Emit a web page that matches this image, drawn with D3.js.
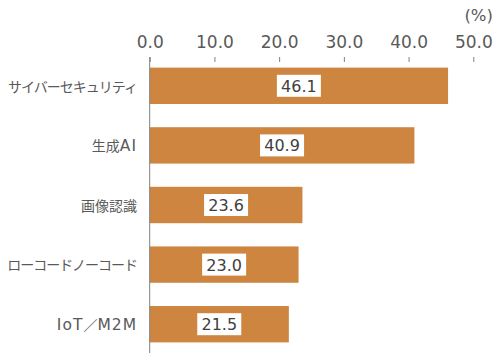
<!DOCTYPE html>
<html>
<head>
<meta charset="utf-8">
<script src="https://cdn.jsdelivr.net/npm/d3@7"></script>
<style>
  body { margin: 0; background: #fff; }
  svg { display: block; font-family: "DejaVu Sans", "Noto Sans CJK JP", sans-serif; }
</style>
</head>
<body>
<div id="chart"></div>
<script>
const categories = ["サイバーセキュリティ", "生成AI", "画像認識", "ローコードノーコード", "IoT／M2M"];
const values = [46.1, 40.9, 23.6, 23.0, 21.5];
const tickValues = [0, 10, 20, 30, 40, 50];

const width = 499, height = 364;

const svg = d3.select("#chart").append("svg")
    .attr("width", width)
    .attr("height", height);

const x = d3.scaleLinear().domain([0, 50]).range([149.7, 473.3]);
const y = d3.scaleBand().domain(categories).range([56, 354])
    .paddingInner(0.39).paddingOuter(0.195);

// top axis: tick marks only, no domain line
const xAxis = svg.append("g")
    .attr("transform", "translate(0,60)")
    .call(d3.axisTop(x).tickValues(tickValues).tickSize(3).tickPadding(9).tickFormat(d3.format(".1f")));
xAxis.select(".domain").remove();
xAxis.selectAll(".tick line").attr("stroke", "#808080").attr("y2", 2).attr("y1", -3);
xAxis.selectAll(".tick text")
    .attr("fill", "#595959")
    .style("font-size", "17px")
    .style("font-family", "'DejaVu Sans', sans-serif");

svg.append("text")
    .attr("x", 493)
    .attr("y", 21)
    .attr("text-anchor", "end")
    .attr("fill", "#595959")
    .style("font-size", "16.5px")
    .text("(%)");

// bars
svg.selectAll("rect.bar")
    .data(values)
    .enter()
    .append("rect")
    .attr("class", "bar")
    .attr("x", x(0))
    .attr("y", (d, i) => y(categories[i]))
    .attr("width", d => x(d) - x(0))
    .attr("height", y.bandwidth())
    .attr("fill", "#CD853F");

// left axis line
svg.append("line")
    .attr("x1", x(0)).attr("x2", x(0))
    .attr("y1", 57).attr("y2", 353)
    .attr("stroke", "#808080")
    .attr("stroke-width", 1);

// category labels: latin runs larger, kana slightly tighter, like the original font
const cat = svg.selectAll("text.cat")
    .data(categories)
    .enter()
    .append("text")
    .attr("class", "cat")
    .attr("x", 137)
    .attr("y", d => y(d) + y.bandwidth() / 2)
    .attr("dy", "0.36em")
    .attr("text-anchor", "end")
    .attr("fill", "#595959");

cat.each(function(d) {
    const runs = d.match(/[\x20-\x7e]+|[\u30a0-\u30ff]+|[^\x20-\x7e\u30a0-\u30ff]+/g);
    const t = d3.select(this);
    runs.forEach(r => {
        const latin = /^[\x20-\x7e]+$/.test(r);
        const kana = /^[\u30a0-\u30ff]+$/.test(r);
        t.append("tspan")
            .style("font-family", latin ? "'DejaVu Sans', sans-serif" : "'Noto Sans CJK JP', sans-serif")
            .style("font-size", latin ? "15.5px" : "14px")
            .style("letter-spacing", latin ? "1px" : kana ? "-1px" : "0px")
            .text(r);
    });
});

// value labels with white boxes
const lab = svg.selectAll("g.val")
    .data(values)
    .enter()
    .append("g")
    .attr("class", "val")
    .attr("transform", (d, i) => "translate(" + ((x(0) + x(d)) / 2) + "," + (y(categories[i]) + y.bandwidth() / 2) + ")");

lab.append("rect")
    .attr("x", -22)
    .attr("y", -11)
    .attr("width", 44)
    .attr("height", 22)
    .attr("fill", "#fff");

lab.append("text")
    .attr("text-anchor", "middle")
    .attr("dy", "0.37em")
    .attr("fill", "#404040")
    .style("font-size", "16px")
    .text(d => d.toFixed(1));
</script>
</body>
</html>
